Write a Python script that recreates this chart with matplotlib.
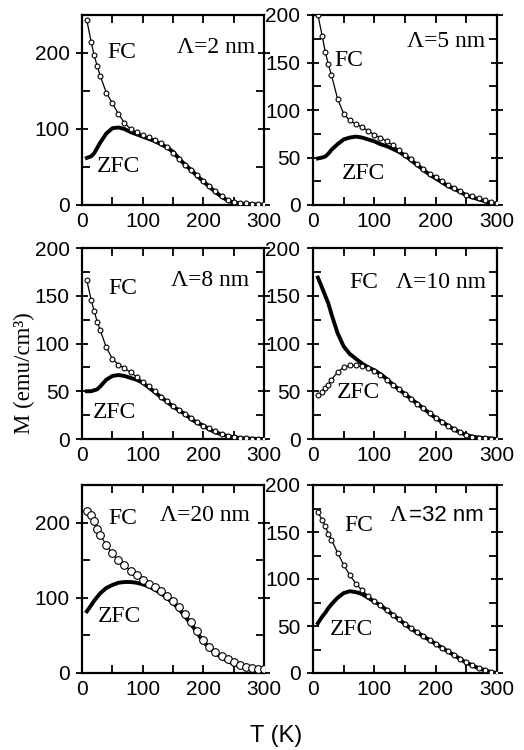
import matplotlib
matplotlib.use("Agg")
import matplotlib.pyplot as plt
from matplotlib.ticker import MultipleLocator

SERIF = "Liberation Serif"
SANS = "Liberation Sans"

# temperature grid (K), shared by all samples
T = [8, 15, 20, 25, 30, 40, 50, 60, 70, 80, 90, 100, 110, 120, 130, 140, 150,
     160, 170, 180, 190, 200, 210, 220, 230, 240, 250, 260, 270, 280, 290, 300]

# magnetisation (emu/cm^3)
fc_2 = [243, 215, 197, 183, 170, 148, 134, 120, 108, 100, 96, 92, 89, 86, 81, 76, 68,
        61, 53, 46, 39, 32, 25, 18, 12, 7, 4, 3, 2, 1.5, 1, 1]
zfc_2 = [62, 64, 68, 75, 82, 94, 101, 102, 100, 96, 93, 90, 87, 84, 80, 76, 70,
         61, 53, 46, 38, 31, 24, 17, 11, 6, 3, 2, 1, 1, 0.5, 0]

fc_5 = [200, 178, 161, 148, 137, 112, 96, 89, 85, 82, 78, 74, 71, 67, 63, 58, 53,
        48, 43, 38, 33, 29, 25, 21, 18, 15, 11, 9, 7, 5, 3, 2]
zfc_5 = [49, 50, 51, 54, 58, 64, 69, 71, 72, 71, 69, 67, 64, 62, 59, 56, 52,
         47, 42, 37, 32, 28, 24, 20, 17, 14, 10, 8, 6, 4, 2, 1]

fc_8 = [166, 146, 134, 123, 114, 96, 84, 78, 74, 70, 65, 60, 55, 50, 44, 40, 35,
        30, 26, 22, 18, 14, 11, 8, 5, 3.5, 2.5, 1.5, 1, 0.5, 0.3, 0]
zfc_8 = [50, 50, 51, 52, 55, 62, 66, 67, 66, 64, 62, 59, 54, 49, 44, 39, 34,
         30, 26, 21, 17, 14, 10, 7, 5, 3, 2, 1, 0.5, 0.3, 0, 0]

fc_10 = [169, 158, 150, 142, 131, 111, 97, 89, 84, 79, 75, 72, 68, 63, 57, 52, 47,
         42, 37, 32, 27, 22, 18, 14, 10, 7, 4, 2.5, 1.5, 1, 0.5, 0]
zfc_10 = [46, 49, 53, 57, 62, 70, 75, 77, 77, 76, 74, 71, 67, 62, 57, 52, 47,
          42, 37, 32, 27, 22, 18, 14, 10, 7, 4, 2.5, 1.5, 1, 0.5, 0]

fc_20 = [215, 210, 202, 192, 184, 170, 159, 150, 143, 136, 130, 124, 119, 114, 109, 103, 96,
         88, 78, 68, 56, 44, 35, 28, 23, 18, 14, 10, 8, 6, 5, 5]
zfc_20 = [82, 90, 96, 101, 106, 113, 117, 120, 121, 121, 120, 118, 115, 111, 106, 100, 93,
          85, 75, 65, 53, 42, 33, 26, 21, 16, 12, 9, 7, 5, 4, 4]

fc_32 = [171, 163, 156, 148, 142, 128, 115, 104, 95, 88, 82, 77, 72, 67, 62, 57, 52,
         48, 44, 39, 35, 31, 27, 23, 19, 15, 12, 8, 5, 3, 1, 0]
zfc_32 = [53, 60, 64, 69, 73, 80, 85, 87, 86, 84, 80, 76, 72, 67, 62, 57, 52,
          47, 43, 39, 35, 31, 27, 23, 19, 15, 11, 8, 5, 3, 1, 0]

fig = plt.figure(figsize=(5.24, 7.5), dpi=100)

# axes boxes in pixels: (left, top, right, bottom)
col_x = [(82, 264), (313, 497)]
row_y = [(15, 205), (248, 439), (485, 673)]


def make_ax(row, col):
    x0, x1 = col_x[col]
    y0, y1 = row_y[row]
    return fig.add_axes([x0 / 524, 1 - y1 / 750, (x1 - x0) / 524, (y1 - y0) / 750])


def style_ax(ax, ymax, ymajor, yminor):
    ax.set_xlim(0, 300)
    ax.set_ylim(0, ymax)
    ax.xaxis.set_major_locator(MultipleLocator(100))
    ax.xaxis.set_minor_locator(MultipleLocator(50))
    ax.yaxis.set_major_locator(MultipleLocator(ymajor))
    ax.yaxis.set_minor_locator(MultipleLocator(yminor))
    ax.tick_params(which="both", direction="in", top=True, right=True,
                   width=1.3, labelsize=15, pad=5)
    ax.tick_params(which="both", length=6)
    ax.tick_params(axis="y", which="major", direction="inout", length=8)
    for lab in ax.get_xticklabels() + ax.get_yticklabels():
        lab.set_family(SANS)
    for s in ax.spines.values():
        s.set_linewidth(1.6)


def solid(ax, y):
    ax.plot(T, y, color="black", lw=2.8, zorder=2)


def circles(ax, y, ms=3.5):
    ax.plot(T, y, color="black", lw=0.9, marker="o", ms=ms,
            mfc="white", mec="black", mew=0.8, zorder=3)


def label(ax, fc_xy, zfc_xy, lam_xy, lam):
    kw = dict(transform=ax.transAxes, family=SERIF, size=17, va="center", ha="left")
    ax.text(*fc_xy, "FC", **kw)
    ax.text(*zfc_xy, "ZFC", **kw)
    if lam is not None:
        ax.text(*lam_xy, lam, **kw)


panels = [
    (0, 0, fc_2, zfc_2, 250, 100, 50, "circles", 3.5,
     (0.137, 0.805), (0.082, 0.205), (0.52, 0.83), "Λ=2 nm"),
    (0, 1, fc_5, zfc_5, 200, 50, 25, "circles", 3.5,
     (0.114, 0.763), (0.158, 0.168), (0.51, 0.858), "Λ=5 nm"),
    (1, 0, fc_8, zfc_8, 200, 50, 25, "circles", 3.5,
     (0.143, 0.79), (0.06, 0.14), (0.49, 0.832), "Λ=8 nm"),
    (1, 1, fc_10, zfc_10, 200, 50, 25, "swap", 3.5,
     (0.196, 0.82), (0.13, 0.246), (0.45, 0.817), "Λ=10 nm"),
    (2, 0, fc_20, zfc_20, 250, 100, 50, "circles", 5.5,
     (0.143, 0.824), (0.088, 0.298), (0.43, 0.84), "Λ=20 nm"),
    (2, 1, fc_32, zfc_32, 200, 50, 25, "circles", 3.5,
     (0.168, 0.787), (0.092, 0.229), None, None),
]

for row, col, fc, zfc, ymax, ymaj, ymin, mode, ms, fc_xy, zfc_xy, lam_xy, lam in panels:
    ax = make_ax(row, col)
    if mode == "swap":
        # here FC is the solid curve and ZFC the open circles
        solid(ax, fc)
        circles(ax, zfc, ms)
    else:
        solid(ax, zfc)
        circles(ax, fc, ms)
    style_ax(ax, ymax, ymaj, ymin)
    label(ax, fc_xy, zfc_xy, lam_xy, lam)
    if lam is None:
        # last panel: Lambda in serif, the rest in sans
        ax.text(0.418, 0.84, "Λ", transform=ax.transAxes, family=SERIF,
                size=17, va="center", ha="left")
        ax.text(0.52, 0.84, "=32 nm", transform=ax.transAxes, family=SANS,
                size=16, va="center", ha="left")

fig.text(24 / 524, 1 - 373 / 750, "M (emu/cm³)", rotation=90, family=SERIF,
         size=16.5, ha="center", va="center")
fig.text(276 / 524, 1 - 736 / 750, "T (K)", family=SANS, size=17,
         ha="center", va="center")

fig.savefig("out.png", dpi=100)
